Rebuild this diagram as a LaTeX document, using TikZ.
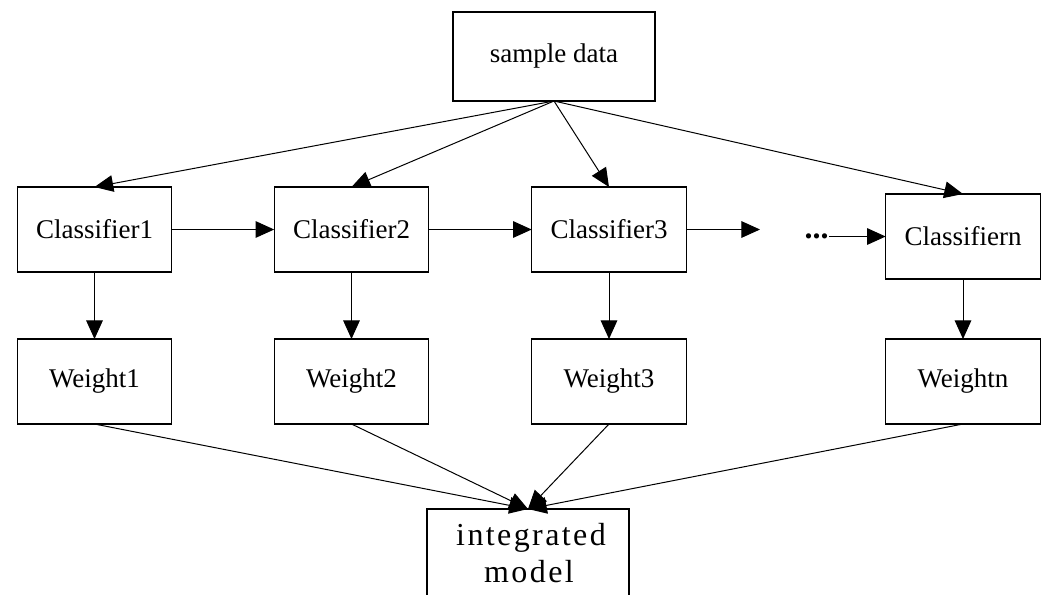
\documentclass[tikz,border=0pt]{standalone}
\usepackage{fontspec}
\setmainfont{Liberation Serif}
\newfontfamily\widefont[LetterSpace=7.5]{Liberation Serif}
\usetikzlibrary{arrows.meta}

\begin{document}
\begin{tikzpicture}[x=0.75pt,y=-0.75pt,
  box/.style={draw=black,line width=0.8pt,inner sep=0pt,outer sep=0pt,
    minimum width=116pt,minimum height=63.75pt,
    font=\fontsize{20.25}{24}\selectfont},
  wide/.style={box,minimum width=151.5pt},
  label/.style={font=\widefont\fontsize{24}{28}\selectfont,inner sep=0pt,anchor=base},
  link/.style={draw=black,line width=0.75pt,
    -{Triangle[length=14pt,width=12.5pt]}}
]
\clip (0,0) rectangle (1046,594);

% source
\node[wide,minimum height=66.75pt] (sample) at (554,56.5) {sample data};

% classifiers
\node[box] (c1) at (94.5,229.5) {Classifier1};
\node[box] (c2) at (351.5,229.5) {Classifier2};
\node[box] (c3) at (609,229.5) {Classifier3};
\node[box] (cn) at (963,236.5) {Classifiern};

% weights
\node[box] (w1) at (94.5,381.5) {Weight1};
\node[box] (w2) at (351.5,381.5) {Weight2};
\node[box] (w3) at (609,381.5) {Weight3};
\node[box] (wn) at (963,381.5) {Weightn};

% combined model (runs past the lower edge)
\node[wide,minimum height=67.5pt,anchor=north] (im) at (528,509) {};
\node[label] (imtop) at (531,545) {integrated};
\node[label] (imbot) at (529,582) {model};

% ellipsis before the last classifier
\node[font=\bfseries\fontsize{24}{28}\selectfont,inner sep=0pt,anchor=base]
  (dots) at (816.5,238.5) {...};
\coordinate (c3end) at (760,229.5);

% data to classifiers
\draw[link] (sample.south) -- (c1.north);
\draw[link] (sample.south) -- (c2.north);
\draw[link] (sample.south) -- (c3.north);
\draw[link] (sample.south) -- (cn.north);

% classifier chain
\draw[link] (c1.east) -- (c2.west);
\draw[link] (c2.east) -- (c3.west);
\draw[link] (c3.east) -- (c3end);
\draw[link] (dots.east |- cn.west) -- (cn.west);

% classifiers to weights
\draw[link] (c1.south) -- (w1.north);
\draw[link] (c2.south) -- (w2.north);
\draw[link] (c3.south) -- (w3.north);
\draw[link] (cn.south) -- (wn.north);

% weights to combined model
\draw[link] (w1.south) -- (im.north);
\draw[link] (w2.south) -- (im.north);
\draw[link] (w3.south) -- (im.north);
\draw[link] (wn.south) -- (im.north);
\end{tikzpicture}
\end{document}
